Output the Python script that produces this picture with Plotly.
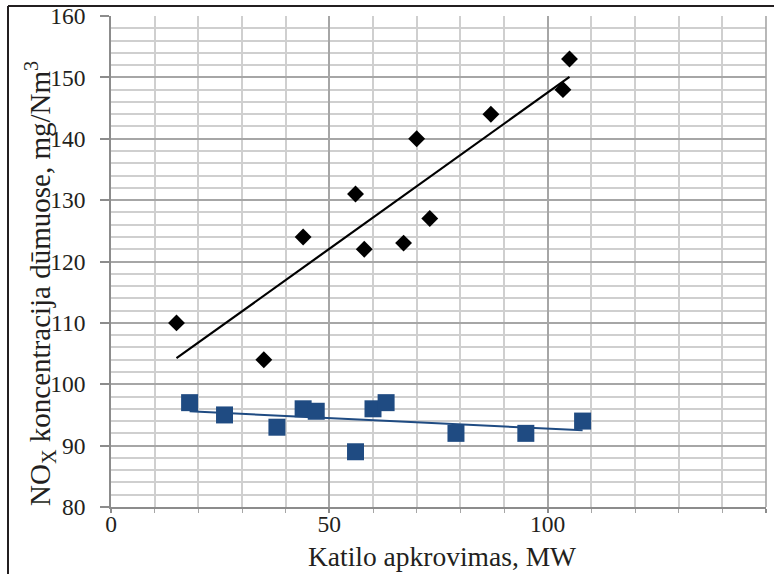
import numpy as np
import plotly.graph_objects as go

# Black diamonds series
x_black = [15, 35, 44, 56, 58, 67, 70, 73, 87, 103.5, 105]
y_black = [110, 104, 124, 131, 122, 123, 140, 127, 144, 148, 153]

# Blue squares series
x_blue = [18, 26, 38, 44, 47, 56, 60, 63, 79, 95, 108]
y_blue = [97, 95, 93, 96, 95.6, 89, 96, 97, 92, 92, 94]

x_ticks = [0, 50, 100, 150]
y_ticks = [80, 90, 100, 110, 120, 130, 140, 150, 160]

x_title = "Katilo apkrovimas, MW"
y_title = "NO<sub>X</sub> koncentracija dūmuose, mg/Nm<sup>3</sup>"

BLUE = "#1f4b82"
FONT = "Liberation Serif"
TXT = "#231f20"

def trend(xs, ys):
    k, b = np.polyfit(xs, ys, 1)
    xe = [min(xs), max(xs)]
    return xe, [k * v + b for v in xe]

fig = go.Figure()

tbx, tby = trend(x_black, y_black)
fig.add_trace(go.Scatter(x=tbx, y=tby, mode="lines",
                         line=dict(color="black", width=2.2), showlegend=False))
tux, tuy = trend(x_blue, y_blue)
fig.add_trace(go.Scatter(x=tux, y=tuy, mode="lines",
                         line=dict(color=BLUE, width=2), showlegend=False))

fig.add_trace(go.Scatter(x=x_black, y=y_black, mode="markers",
                         marker=dict(symbol="diamond", size=13, color="black"),
                         showlegend=False))
fig.add_trace(go.Scatter(x=x_blue, y=y_blue, mode="markers",
                         marker=dict(symbol="square", size=17, color=BLUE),
                         showlegend=False))

L, R, T, B = 111, 8, 16, 67
W, H = 774, 574
pw, ph = W - L - R, H - T - B

def px2paper_x(px):
    return (px - L) / pw

def px2paper_y(py):
    return (H - B - py) / ph

fig.update_layout(
    width=W, height=H,
    margin=dict(l=L, r=R, t=T, b=B, autoexpand=False),
    paper_bgcolor="white", plot_bgcolor="white",
    font=dict(family=FONT, size=24, color=TXT),
    xaxis=dict(
        range=[0, 150], tickvals=x_ticks, ticktext=[str(v) for v in x_ticks],
        showgrid=True, gridcolor="#a6a6a6", gridwidth=1.6,
        showline=True, linecolor="#8c8c8c", linewidth=1.6,
        ticks="outside", ticklen=4, tickcolor="#8c8c8c", tickwidth=1.6,
        ticklabelstandoff=-9,
        zeroline=False,
        minor=dict(dtick=10, showgrid=True, gridcolor="#cfcfcf", gridwidth=1.6,
                   ticks="outside", ticklen=4, tickcolor="#a6a6a6", tickwidth=1.4),
        tickfont=dict(family=FONT, size=23.5, color=TXT),
    ),
    yaxis=dict(
        range=[80, 160], tickvals=y_ticks,
        showgrid=True, gridcolor="#a6a6a6", gridwidth=1.6,
        showline=True, linecolor="#8c8c8c", linewidth=1.6,
        ticks="outside", ticklen=9, tickcolor="#8c8c8c", tickwidth=1.6,
        ticklabelstandoff=10,
        zeroline=False,
        minor=dict(dtick=2, showgrid=True, gridcolor="#cfcfcf", gridwidth=1.6),
        tickfont=dict(family=FONT, size=23.5, color=TXT),
    ),
    annotations=[
        dict(text=x_title, xref="paper", yref="paper",
             x=px2paper_x(442), y=px2paper_y(556), xanchor="center", yanchor="middle",
             showarrow=False, font=dict(family=FONT, size=27.5, color=TXT)),
        dict(text=y_title, xref="paper", yref="paper", textangle=-90,
             x=px2paper_x(40), y=px2paper_y(284), xanchor="center", yanchor="middle",
             showarrow=False, font=dict(family=FONT, size=29, color=TXT)),
    ],
    shapes=[
        dict(type="line", xref="paper", yref="paper",
             x0=px2paper_x(8), x1=px2paper_x(774), y0=px2paper_y(6), y1=px2paper_y(6),
             line=dict(color=TXT, width=2)),
        dict(type="line", xref="paper", yref="paper",
             x0=px2paper_x(8), x1=px2paper_x(8), y0=px2paper_y(6), y1=px2paper_y(574),
             line=dict(color=TXT, width=2)),
        dict(type="line", xref="paper", yref="paper",
             x0=1, x1=1, y0=0, y1=1,
             line=dict(color="#a6a6a6", width=1.6)),
    ],
)

fig.write_html("out.html", config={"displayModeBar": False},
               post_script="document.body.style.margin='0';document.body.style.padding='0';")
